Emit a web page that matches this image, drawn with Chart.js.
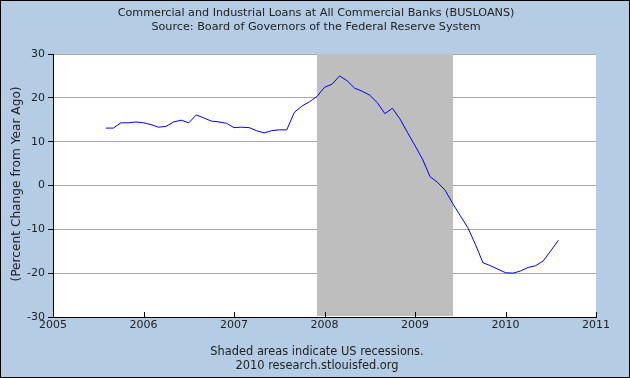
<!DOCTYPE html>
<html>
<head>
<meta charset="utf-8">
<script src="https://cdn.jsdelivr.net/npm/chart.js@4/dist/chart.umd.min.js"></script>
<style>
  html, body { margin: 0; padding: 0; background: #b4cce4; }
  canvas { display: block; }
</style>
</head>
<body>
<canvas id="busloans" width="630" height="378"></canvas>
<script>
// chart text
const titleLines = [
  'Commercial and Industrial Loans at All Commercial Banks (BUSLOANS)',
  'Source: Board of Governors of the Federal Reserve System'
];
const footLines = ['Shaded areas indicate US recessions.', '2010 research.stlouisfed.org'];
const yAxisTitle = '(Percent Change from Year Ago)';

// monthly series, Aug 2005 .. Aug 2010 (percent change from year ago)
const firstYear = 2005;
const firstMonth = 8;
const values = [
  13.1, 13.1, 14.3, 14.3, 14.5,
  14.3, 13.9, 13.3, 13.5, 14.5, 14.9, 14.3, 16.1, 15.4, 14.7, 14.5, 14.2,
  13.2, 13.3, 13.2, 12.5, 12.0, 12.5, 12.7, 12.7, 16.7, 18.1, 19.1, 20.3,
  22.4, 23.1, 25.0, 23.9, 22.2, 21.5, 20.6, 18.9, 16.4, 17.6, 15.2, 12.1,
  9.1, 6.0, 2.0, 0.7, -1.1, -4.1, -6.9, -9.6, -13.4, -17.6, -18.3, -19.1,
  -19.9, -20.0, -19.5, -18.7, -18.3, -17.2, -14.9, -12.5
];
const yearTicks = [2005, 2006, 2007, 2008, 2009, 2010, 2011];
const yTicks = [-30, -20, -10, 0, 10, 20, 30];
// recession: Dec 2007 .. Jun 2009
const recessions = [[2007 + 11 / 12, 2009 + 5 / 12]];

const points = values.map((v, i) => ({ x: firstYear + (firstMonth - 1 + i) / 12, y: v }));

Chart.defaults.font.family = "'DejaVu Sans', sans-serif";
Chart.defaults.font.size = 11;
Chart.defaults.color = '#222';

const frame = {
  id: 'frame',
  beforeDraw(chart) {
    const c = chart.ctx, a = chart.chartArea;
    c.save();
    c.fillStyle = '#b4cce4';
    c.fillRect(0, 0, chart.width, chart.height);
    c.fillStyle = '#fff';
    c.fillRect(a.left, a.top, a.right - a.left, a.bottom - a.top);
    c.restore();
  },
  beforeDatasetsDraw(chart) {
    const c = chart.ctx, a = chart.chartArea, xs = chart.scales.x;
    c.save();
    c.fillStyle = '#bebebe';
    recessions.forEach(r => {
      const x0 = Math.round(xs.getPixelForValue(r[0]));
      const x1 = Math.round(xs.getPixelForValue(r[1]));
      c.fillRect(x0, a.top, x1 - x0, a.bottom - a.top - 1);
    });
    // year tick marks pointing up into the plot
    c.strokeStyle = '#000';
    c.lineWidth = 1;
    yearTicks.forEach(t => {
      const x = Math.round(xs.getPixelForValue(t)) + 0.5;
      c.beginPath();
      c.moveTo(x, a.bottom);
      c.lineTo(x, a.bottom - 5);
      c.stroke();
    });
    c.restore();
  },
  afterDraw(chart) {
    const c = chart.ctx;
    c.save();
    c.fillStyle = '#222';
    c.textAlign = 'center';
    c.textBaseline = 'middle';
    c.font = "11.2px 'DejaVu Sans'";
    c.fillText(titleLines[0], 316, 13);
    c.fillText(titleLines[1], 316, 27);
    c.font = "11.4px 'DejaVu Sans'";
    c.fillText(footLines[0], 317, 352);
    c.fillText(footLines[1], 317, 366);
    c.font = "12.2px 'DejaVu Sans'";
    c.translate(17, 184);
    c.rotate(-Math.PI / 2);
    c.fillText(yAxisTitle, 0, 0);
    c.restore();
    c.save();
    c.strokeStyle = '#000';
    c.lineWidth = 1;
    c.strokeRect(0.5, 0.5, chart.width - 1, chart.height - 1);
    c.restore();
  }
};

new Chart(document.getElementById('busloans'), {
  type: 'line',
  data: {
    datasets: [{
      data: points,
      borderColor: '#0000ff',
      borderWidth: 1,
      pointRadius: 0,
      tension: 0,
      fill: false
    }]
  },
  options: {
    responsive: false,
    animation: false,
    layout: { padding: { top: 54, right: 34, bottom: 0, left: 0 } },
    plugins: { legend: { display: false }, tooltip: { enabled: false } },
    scales: {
      x: {
        type: 'linear',
        min: 2005,
        max: 2011,
        afterBuildTicks: s => { s.ticks = yearTicks.map(v => ({ value: v })); },
        afterFit: s => { s.height = 61; },
        ticks: { padding: 2, callback: v => String(v), maxRotation: 0 },
        grid: { display: false, drawTicks: false },
        border: { display: true, color: '#000', width: 1 }
      },
      y: {
        min: -30,
        max: 30,
        afterBuildTicks: s => { s.ticks = yTicks.map(v => ({ value: v })); },
        afterFit: s => { s.width = 53; },
        ticks: { padding: 3 },
        grid: { color: '#aaa', tickColor: '#000', tickLength: 5, drawTicks: true },
        border: { display: true, color: '#000', width: 1 }
      }
    }
  },
  plugins: [frame]
});
</script>
</body>
</html>
